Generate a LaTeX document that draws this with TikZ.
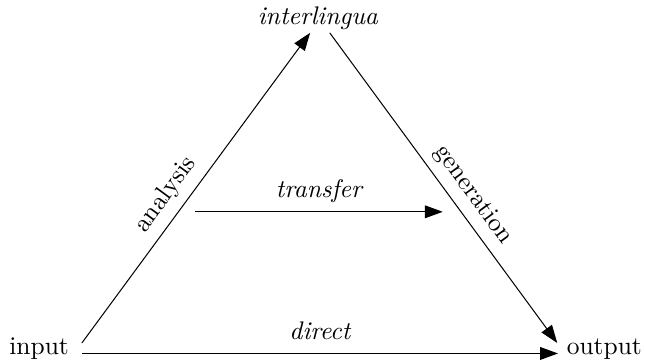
\documentclass[tikz,border=0pt]{standalone}
\usepackage{amsmath}
\usetikzlibrary{arrows.meta}

\tikzset{lbl/.style={font=\itshape, text depth=2pt}}

\begin{document}
\begin{tikzpicture}[>={Triangle[length=7pt,width=5pt]}]
  \useasboundingbox (0,0) rectangle (8.901,5.023);
  \node[anchor=base] (input) at (0.54,0.124) {input};
  \node[anchor=base] (output) at (8.34,0.124) {output};
  \node[anchor=base] (inter) at (4.39,4.68) {\emph{interlingua}};
  % corners of the triangle
  \coordinate (in1) at (1.13,0.29);
  \coordinate (in2) at (1.13,0.145);
  \coordinate (il1) at (4.28,4.57);
  \coordinate (il2) at (4.55,4.57);
  \coordinate (out1) at (7.69,0.29);
  \coordinate (out2) at (7.70,0.145);
  \coordinate (tr1) at (2.69,2.10);
  \coordinate (tr2) at (6.11,2.10);
  \draw[->] (in1) -- node[lbl,font=\upshape,above,sloped,pos=0.44] {analysis} (il1);
  \draw[->] (il2) -- node[lbl,font=\upshape,above,sloped,pos=0.56] {generation} (out1);
  \draw[->] (tr1) -- node[lbl,above] {transfer} (tr2);
  \draw[->] (in2) -- node[lbl,above] {direct} (out2);
\end{tikzpicture}
\end{document}
